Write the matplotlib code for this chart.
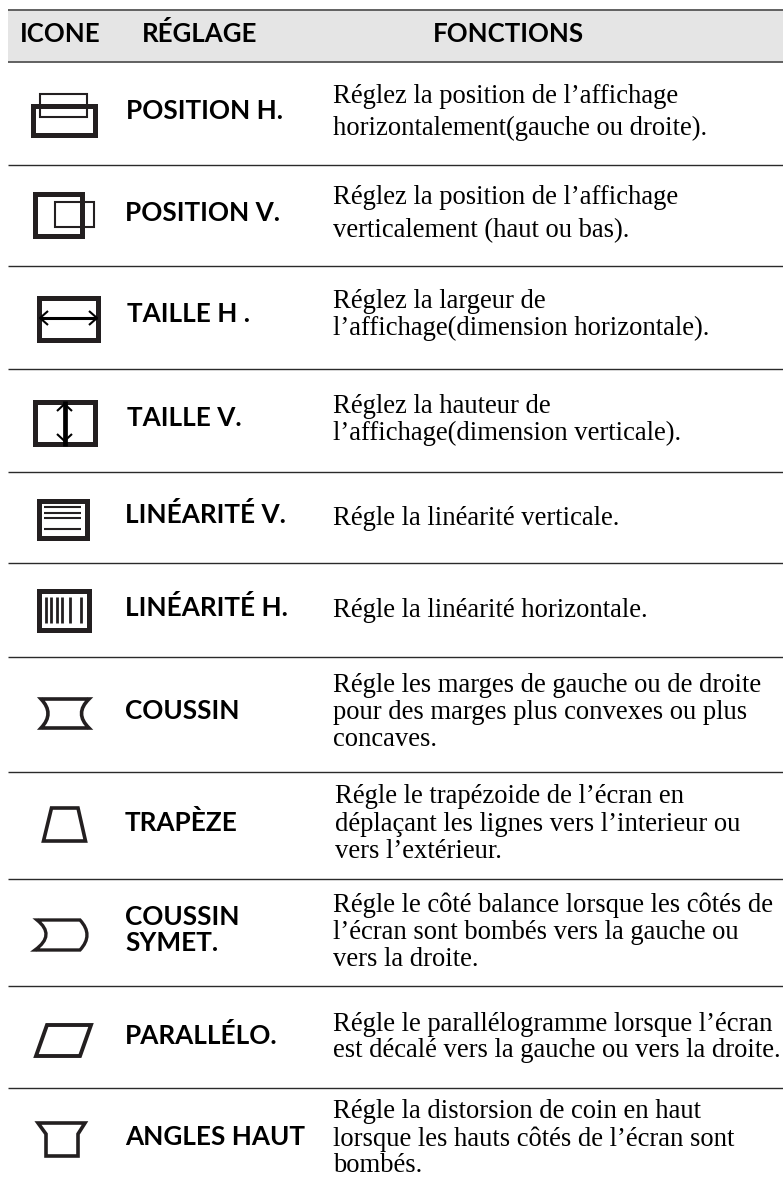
import matplotlib
matplotlib.use('Agg')
import matplotlib.pyplot as plt
from matplotlib.patches import Rectangle, Polygon, PathPatch
from matplotlib.path import Path

W, H = 783, 1185
DARK = '#231f20'

# Header
header_labels = ['ICONE', 'RÉGLAGE', 'FONCTIONS']
header_x = [20, 142, 433]

# Horizontal rules
rule_y = [10, 61.5, 164.5, 265.5, 368.5, 472, 562.5, 656.5, 771.5, 878.5, 985.5, 1087.5]

# Setting names
setting_names = ['POSITION H.', 'POSITION V.', 'TAILLE H .', 'TAILLE V.', 'LINÉARITÉ V.',
                 'LINÉARITÉ H.', 'COUSSIN', 'TRAPÈZE', 'COUSSIN', 'SYMET.', 'PARALLÉLO.', 'ANGLES HAUT']
setting_x = [126, 125, 127, 127, 125, 125, 125, 125, 125, 125, 125, 125]
setting_y = [119, 221, 322, 426, 523, 616, 719, 831, 925, 951, 1044, 1145]

# Function text, one entry per line
func_lines = [
    'Réglez la position de l’affichage', 'horizontalement(gauche ou droite).',
    'Réglez la position de l’affichage', 'verticalement (haut ou bas).',
    'Réglez la largeur de', 'l’affichage(dimension horizontale).',
    'Réglez la hauteur de', 'l’affichage(dimension verticale).',
    'Régle la linéarité verticale.',
    'Régle la linéarité horizontale.',
    'Régle les marges de gauche ou de droite', 'pour des marges plus convexes ou plus', 'concaves.',
    'Régle le trapézoide de l’écran en', 'déplaçant les lignes vers l’interieur ou', 'vers l’extérieur.',
    'Régle le côté balance lorsque les côtés de', 'l’écran sont bombés vers la gauche ou', 'vers la droite.',
    'Régle le parallélogramme lorsque l’écran', 'est décalé vers la gauche ou vers la droite.',
    'Régle la distorsion de coin en haut', 'lorsque les hauts côtés de l’écran sont', 'bombés.',
]
func_x = [333, 333, 333, 333, 333, 333, 333, 333, 333, 333, 333, 333, 333,
          335, 335, 335, 333, 333, 333, 333, 333, 333, 333, 333]
func_y = [103, 135, 204, 237, 308, 335, 413, 440, 525, 617, 692, 719, 746,
          803, 831, 858, 912, 939, 966, 1031, 1057, 1118, 1146, 1172]

fig = plt.figure(figsize=(W / 100, H / 100), dpi=100)
ax = fig.add_axes([0, 0, 1, 1])
ax.set_xlim(0, W)
ax.set_ylim(H, 0)
ax.axis('off')

ax.add_patch(Rectangle((8, 10), W - 8, 51.5, fc='#e5e5e5', ec='none'))
for i, y in enumerate(rule_y):
    ax.plot([8, W], [y, y], color='#555555' if i < 2 else '#2a2a2a', lw=1.3 if i < 2 else 1.0,
            solid_capstyle='butt')

for label, x in zip(header_labels, header_x):
    ax.text(x, 42, label, ha='left', va='baseline', family='Lato', weight='bold', size=18.6, color='black')

for name, x, y in zip(setting_names, setting_x, setting_y):
    ax.text(x, y, name, ha='left', va='baseline', family='Lato', weight='bold', size=18.8, color='black')

for line, x, y in zip(func_lines, func_x, func_y):
    ax.text(x, y, line, ha='left', va='baseline', family='Liberation Serif', size=19.2, color='black')


def box(x0, y0, x1, y1, lw=3.6):
    ax.add_patch(Rectangle((x0, y0), x1 - x0, y1 - y0, fc='none', ec=DARK, lw=lw))


def poly(pts, lw=2.6):
    ax.add_patch(Polygon(pts, closed=True, fc='none', ec=DARK, lw=lw, joinstyle='miter'))


def curved(verts, codes, lw=2.6):
    ax.add_patch(PathPatch(Path(verts, codes), fc='none', ec=DARK, lw=lw, joinstyle='miter'))


def seg(xs, ys, lw=1.5, color=DARK):
    ax.plot(xs, ys, color=color, lw=lw, solid_capstyle='butt')


# position H
box(40, 94, 87, 117, lw=1.5)
box(32.5, 105.5, 94.5, 134.5)
# position V
box(55, 202, 94, 227, lw=1.5)
box(34.5, 193.5, 81.5, 235.5)
# taille H
box(38.5, 297.5, 97.5, 339.5)
seg([40, 97], [318, 318], lw=2.2, color='black')
seg([48, 40, 48], [311, 318, 325], color='black')
seg([89, 97, 89], [311, 318, 325], color='black')
# taille V
box(34.5, 401.5, 94.5, 443.5)
seg([64.5, 64.5], [401, 446], lw=3.4, color='black')
seg([57, 64.5, 72], [411, 404, 411], color='black')
seg([57, 64.5, 72], [434, 441, 434], color='black')
# linearite V
box(38.5, 500.5, 86.5, 537.5)
for y in [507, 512.5, 518, 529]:
    seg([44, 81], [y, y], lw=1.5)
# linearite H
box(38.5, 590.5, 88.5, 629.5)
for x in [45.5, 51, 56.5, 62, 70, 81]:
    seg([x, x], [597, 623], lw=2.0)

C3 = Path.CURVE3
M, L, Z = Path.MOVETO, Path.LINETO, Path.CLOSEPOLY
# coussin
curved([(41, 699), (89, 699), (74, 713.5), (89, 728), (41, 728), (55, 713.5), (41, 699), (41, 699)],
       [M, L, C3, C3, L, C3, C3, Z], lw=2.6)
# trapeze
poly([(51.5, 808), (78, 808), (85.5, 841), (43.5, 841)])
# coussin symet
curved([(37, 920), (80, 920), (94, 935), (80, 950), (35, 950), (56, 935), (37, 920), (37, 920)],
       [M, L, C3, C3, L, C3, C3, Z], lw=2.4)
# parallelo
poly([(47, 1025), (91, 1025), (80, 1056), (36, 1056)], lw=2.8)
# angles haut
poly([(38, 1123), (85, 1123), (78, 1134), (78, 1156), (46, 1156), (46, 1134)])

fig.savefig('out.png', dpi=100)
